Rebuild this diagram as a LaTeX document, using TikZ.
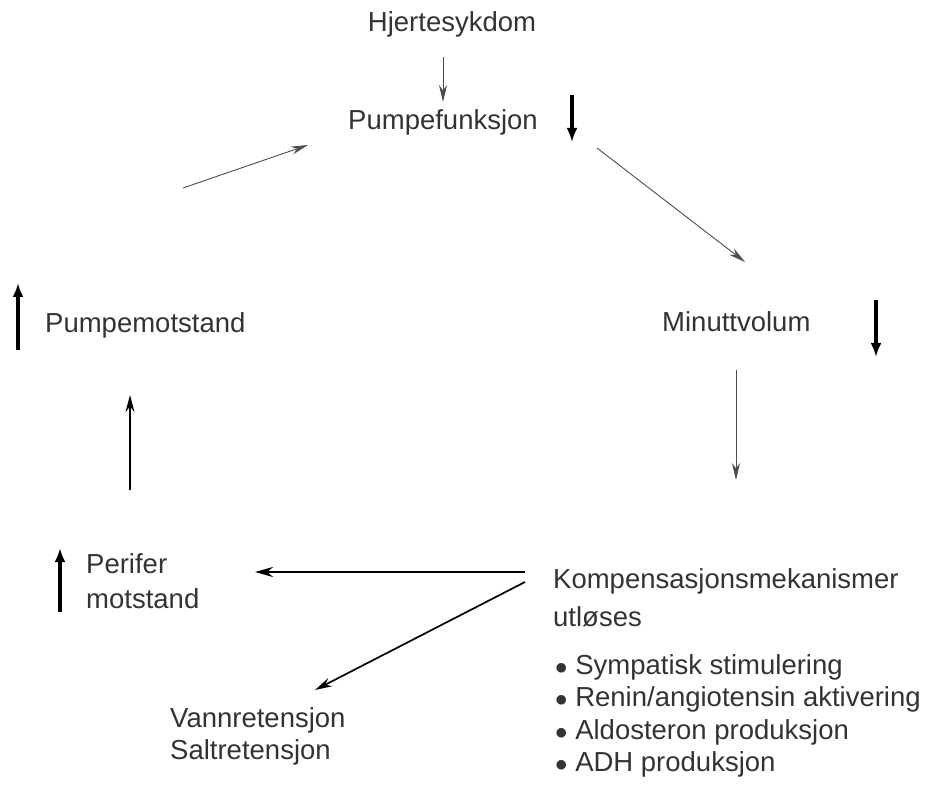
\documentclass[tikz,border=0pt]{standalone}
\usepackage{fontspec}
\setmainfont{Liberation Sans}
\usetikzlibrary{arrows.meta}

\begin{document}
\begin{tikzpicture}[x=1pt,y=-1pt,
  txt/.style={font=\fontsize{27.5}{35}\selectfont,text=black!80,inner sep=0pt},
  thinarrow/.style={-{Stealth[length=17pt,width=8pt]},draw=black!70,line width=0.9pt},
  fatarrow/.style={-{Stealth[length=18pt,width=10pt]},line width=2.6pt},
  midarrow/.style={-{Stealth[length=17pt,width=9pt]},line width=1.7pt},
  updown/.style={-{Latex[length=14pt,width=11pt]},line width=4pt}]

\useasboundingbox (0,0) rectangle (951,791);

% the circle
\node[txt] (hjerte) at (452,24) {Hjertesykdom};
\node[txt] (pumpe) at (443,122) {Pumpefunksjon};
\node[txt,anchor=west] (minutt) at (662,322) {Minuttvolum};
\node[txt,anchor=west] (pmotst) at (45,325) {Pumpemotstand};
\node[txt,anchor=north west,align=left] (perifer) at (86,553) {Perifer\\motstand};
\node[txt,anchor=north west,align=left,font=\fontsize{27.5}{38}\selectfont] (komp) at (553,568) {Kompensasjonsmekanismer\\utløses};
\node[txt,anchor=north west,align=left,font=\fontsize{27.5}{32.5}\selectfont] (tiltak) at (555,654)
  {$\bullet$ Sympatisk stimulering\\$\bullet$ Renin/angiotensin aktivering\\$\bullet$ Aldosteron produksjon\\$\bullet$ ADH produksjon};
\node[txt,anchor=north west,align=left,font=\fontsize{27.5}{32}\selectfont] (vann) at (170,707) {Vannretensjon\\Saltretensjon};

% up and down
\draw[updown] (572,95) -- (572,142);
\draw[updown] (876,300) -- (876,357);
\draw[updown] (18,350) -- (18,283);
\draw[updown] (60,612) -- (60,548);

% arrows
\draw[thinarrow,shorten <=20pt,shorten >=7pt] (hjerte.south -| pumpe.north) -- (pumpe.north);
\draw[thinarrow] ([shift={(154,26)}]pumpe.center) -- ([shift={(83,-60)}]minutt.west);
\draw[thinarrow] ([shift={(74,48)}]minutt.west) -- ([shift={(183,-88)}]komp.north west);
\draw[fatarrow] ([shift={(-28,4)}]komp.north west) -- ([shift={(169,19)}]perifer.north west);
\draw[midarrow] ([shift={(-28,14)}]komp.north west) -- ([shift={(145,-17)}]vann.north west);
\draw[midarrow] ([shift={(44,-63)}]perifer.north west) -- ([shift={(85,70)}]pmotst.west);
\draw[thinarrow] ([shift={(138,-137)}]pmotst.west) -- ([shift={(-40,23)}]pumpe.west);
\end{tikzpicture}
\end{document}
